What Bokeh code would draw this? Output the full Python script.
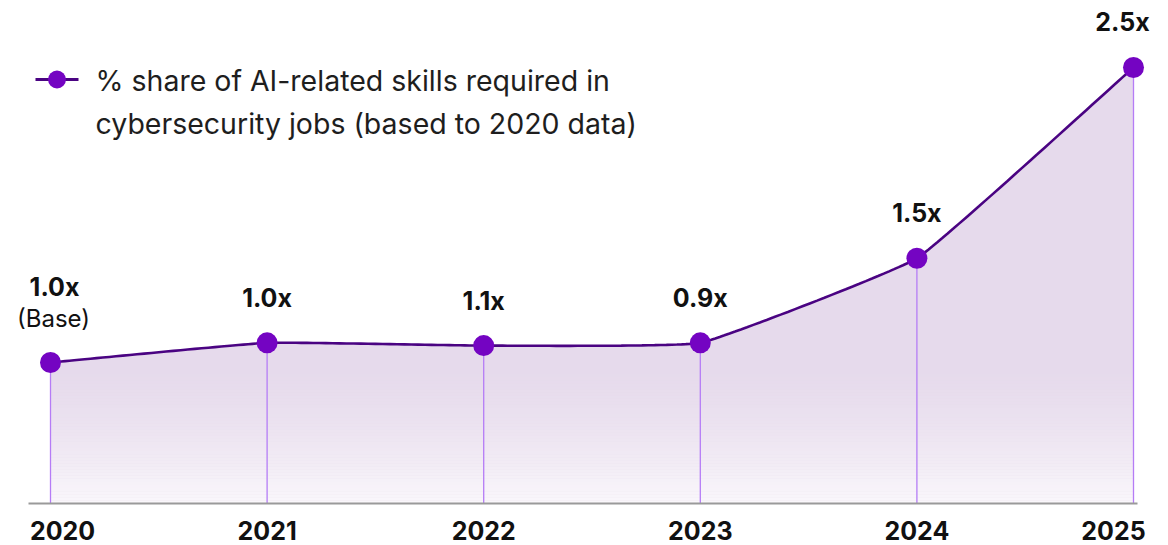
import numpy as np
from bokeh.plotting import figure
from bokeh.models import Range1d, ColumnDataSource
from bokeh.core.properties import value
from bokeh.embed import file_html
from bokeh.resources import INLINE

# ---------------- data ----------------
years = [2020, 2021, 2022, 2023, 2024, 2025]
# plotted height of each point (relative to 2020 = 1.0)
share_index = [1.00, 1.10, 1.086, 1.10, 1.53, 2.50]
value_labels = ["1.0x", "1.0x", "1.1x", "0.9x", "1.5x", "2.5x"]
tick_labels = ["2020", "2021", "2022", "2023", "2024", "2025"]
base_note = "(Base)"
legend_lines = ["% share of AI-related skills required in",
                "cybersecurity jobs (based to 2020 data)"]

# ---------------- layout helpers ----------------
W, H = 1168, 545
px_x0, px_x1 = 50, 1133          # pixel x of first / last year
px_base = 503                     # pixel y of baseline
px_first = 362                    # pixel y of 2020 point
px_last = 67                      # pixel y of 2025 point
sx = (px_x1 - px_x0) / (years[-1] - years[0])
sy = (px_first - px_last) / (share_index[-1] - share_index[0])
vbase = share_index[0] - (px_base - px_first) / sy

def X(px):
    return years[0] + (px - px_x0) / sx

def Y(py):
    return vbase + (px_base - py) / sy

p = figure(width=W, height=H, output_backend="svg", toolbar_location=None,
           x_range=Range1d(X(0), X(W)), y_range=Range1d(Y(H), Y(0)),
           min_border=0, background_fill_color="white", border_fill_color="white")
p.axis.visible = False
p.grid.visible = False
p.outline_line_color = None

# ---------------- lightly tensioned spline (computed in pixel space) ----------------
def spline(x, y, tension=0.1, n=40):
    P = np.column_stack([(np.asarray(x, float) - years[0]) * sx, np.asarray(y, float) * sy])
    k = len(P)
    prev_cp, next_cp = [], []
    for i in range(k):
        a = P[max(i - 1, 0)]; b = P[i]; c = P[min(i + 1, k - 1)]
        d01 = np.hypot(*(b - a)); d12 = np.hypot(*(c - b))
        tot = d01 + d12 if d01 + d12 > 0 else 1.0
        fa = tension * d01 / tot; fb = tension * d12 / tot
        prev_cp.append(b - fa * (c - a)); next_cp.append(b + fb * (c - a))
    out = []
    for i in range(k - 1):
        t = np.linspace(0, 1, n, endpoint=(i == k - 2))[:, None]
        p0, p1, p2, p3 = P[i], next_cp[i], prev_cp[i + 1], P[i + 1]
        seg = ((1 - t)**3) * p0 + 3 * ((1 - t)**2) * t * p1 + 3 * (1 - t) * t**2 * p2 + t**3 * p3
        out.append(seg)
    out = np.vstack(out)
    return out[:, 0] / sx + years[0], out[:, 1] / sy

cx, cy = spline(years, share_index)

# area fill
p.varea(x=cx, y1=vbase, y2=cy, fill_color="#E6DAEC", fill_alpha=1.0)

# fade to white towards the baseline (gradient emulation)
nb = 48
edges = np.linspace(px_base, 355, nb + 1)
bottoms, tops, alphas = [], [], []
for i in range(nb):
    t = 1 - (i + 0.5) / nb
    bottoms.append(Y(edges[i])); tops.append(Y(edges[i + 1]))
    alphas.append(0.80 * t**1.6)
p.quad(left=years[0], right=years[-1], bottom=bottoms, top=tops,
       fill_color="white", fill_alpha=alphas, line_color=None)

# drop lines
p.segment(x0=years, y0=vbase, x1=years, y1=share_index,
          line_color="#B57CF6", line_width=1.3)

# baseline axis line
p.segment(x0=[X(28)], y0=[vbase], x1=[X(1137)], y1=[vbase],
          line_color="#9A9A9A", line_width=2.2)

# curve and points
p.line(cx, cy, line_color="#4A0382", line_width=2.6)
p.scatter(years, share_index, size=21, fill_color="#7404C2", line_color=None)

# value labels
src = ColumnDataSource(dict(x=years, y=share_index, t=value_labels,
                            xo=[4, 0, 0, 0, 0, -11],
                            yo=[-76, -45, -45, -45, -45, -46]))
p.text(x="x", y="y", text="t", x_offset="xo", y_offset="yo", source=src,
       text_font=value("Inter"), text_font_style="bold", text_font_size="25px",
       text_color="#111111", text_align="center", text_baseline="middle")
p.text(x=[years[0]], y=[share_index[0]], text=[base_note], x_offset=3, y_offset=-44,
       text_font=value("Inter"), text_font_size="24px",
       text_color="#111111", text_align="center", text_baseline="middle")

# tick labels
tsrc = ColumnDataSource(dict(x=years, t=tick_labels, xo=[12, 0, 0, 0, 0, -20]))
p.text(x="x", y=Y(530), text="t", x_offset="xo", source=tsrc,
       text_font=value("Inter"), text_font_style="bold", text_font_size="25px",
       text_color="#111111", text_align="center", text_baseline="middle")

# legend
p.segment(x0=[X(35)], y0=[Y(79)], x1=[X(78)], y1=[Y(79)],
          line_color="#4A0382", line_width=3)
p.scatter([X(56.5)], [Y(79)], size=18, fill_color="#7404C2", line_color=None)
p.text(x=[X(95), X(95)], y=[Y(80), Y(123)], text=legend_lines,
       text_font=value("Inter"), text_font_size="28.5px",
       text_color="#1E1E1E", text_align="left", text_baseline="middle")

open("out.html", "w").write(file_html(p, INLINE))
